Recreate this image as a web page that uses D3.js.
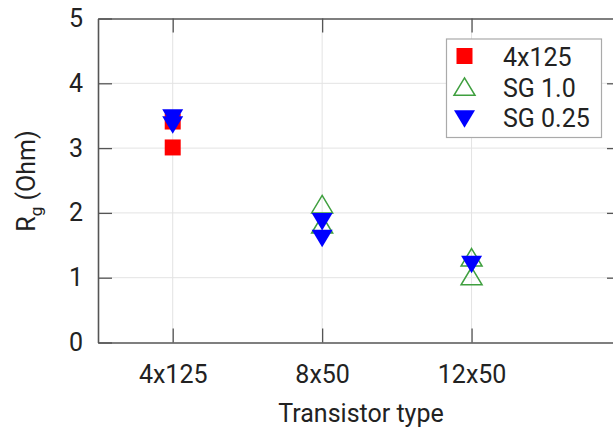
<!DOCTYPE html>
<html><head><meta charset="utf-8">
<script src="https://cdn.jsdelivr.net/npm/d3@7"></script>
<style>
html,body{margin:0;padding:0;background:#fff;}
svg{display:block;font-family:Roboto,"Noto Sans",sans-serif;}
</style></head>
<body><svg id="chart" width="613" height="435"></svg>
<script>
// ---- data ----
const categories = ["4x125", "8x50", "12x50"];
const yTicks = [0, 1, 2, 3, 4, 5];
const seriesNames = ["4x125", "SG 1.0", "SG 0.25"];
// each point: [category, value]
const series4x125 = [["4x125", 3.01], ["4x125", 3.41]];
const seriesSG10 = [["8x50", 2.09], ["8x50", 1.78], ["12x50", 1.27], ["12x50", 0.98]];
const seriesSG025 = [["4x125", 3.51], ["4x125", 3.40], ["8x50", 1.91], ["8x50", 1.65], ["12x50", 1.25]];

// ---- layout ----
const W = 613, H = 435;
const x0 = 98, x1 = 621, yTop = 18.5, yBot = 342.5;
const svg = d3.select("#chart");
const x = d3.scaleLinear().domain([0.5, 4]).range([x0, x1]);
const y = d3.scaleLinear().domain([0, 5]).range([yBot, yTop]);
const catX = c => x(categories.indexOf(c) + 1);

const axisColor = "#555", gridColor = "#e3e3e3", textColor = "#222";
const fs = "25px";

// grid
svg.append("g").selectAll("line").data(yTicks.filter(t => t > 0 && t < 5)).join("line")
  .attr("x1", x0).attr("x2", x1).attr("y1", d => y(d)).attr("y2", d => y(d))
  .attr("stroke", gridColor).attr("stroke-width", 1);
svg.append("g").selectAll("line").data(categories).join("line")
  .attr("x1", d => catX(d)).attr("x2", d => catX(d)).attr("y1", yTop).attr("y2", yBot)
  .attr("stroke", gridColor).attr("stroke-width", 1);

// axes
const tickLen = 14;
const gl = svg.append("g").attr("transform", `translate(${x0},0)`)
  .call(d3.axisLeft(y).tickValues(yTicks).tickFormat(d3.format("d")).tickSize(-tickLen).tickSizeOuter(0).tickPadding(15));
const gr = svg.append("g").attr("transform", `translate(${x1},0)`)
  .call(d3.axisRight(y).tickValues(yTicks.filter(t => t > 0 && t < 5)).tickFormat("").tickSize(-tickLen).tickSizeOuter(0));
const gb = svg.append("g").attr("transform", `translate(0,${yBot})`)
  .call(d3.axisBottom(x).tickValues(categories.map((c, i) => i + 1)).tickFormat(i => categories[i - 1]).tickSize(-tickLen).tickSizeOuter(0).tickPadding(23));
const gt = svg.append("g").attr("transform", `translate(0,${yTop})`)
  .call(d3.axisTop(x).tickValues(categories.map((c, i) => i + 1)).tickFormat("").tickSize(-tickLen).tickSizeOuter(0));
[gl, gr, gb, gt].forEach(g => {
  g.selectAll("path.domain").attr("stroke", axisColor).attr("stroke-width", 1.6);
  g.selectAll(".tick line").attr("stroke", axisColor).attr("stroke-width", 1.3);
  g.selectAll(".tick text").attr("fill", textColor).style("font-size", fs).style("font-family", "Roboto");
});

// axis titles
svg.append("text").attr("x", 361).attr("y", 422).attr("text-anchor", "middle")
  .attr("fill", textColor).style("font-size", fs).text("Transistor type");
const yl = svg.append("text").attr("transform", "translate(35,181) rotate(-90)")
  .attr("text-anchor", "middle").attr("fill", textColor).style("font-size", fs);
yl.append("tspan").text("R");
yl.append("tspan").attr("dy", 7).style("font-size", "17px").text("g");
yl.append("tspan").attr("dy", -7).text(" (Ohm)");

// markers
const triW = 21, triH = 17.5;
const triUp = `M0,${-triH * 2 / 3}L${triW / 2},${triH / 3}L${-triW / 2},${triH / 3}Z`;
const triDown = `M0,${triH * 2 / 3}L${triW / 2},${-triH / 3}L${-triW / 2},${-triH / 3}Z`;
const sq = 16;
const sqPath = `M${-sq / 2},${-sq / 2}h${sq}v${sq}h${-sq}Z`;
const styles = [
  { path: sqPath, fill: "#ff0000", stroke: "none", sw: 0 },
  { path: triUp, fill: "none", stroke: "#3f9f3f", sw: 1.5 },
  { path: triDown, fill: "#0000ff", stroke: "none", sw: 0 }
];
[series4x125, seriesSG10, seriesSG025].forEach((data, i) => {
  const s = styles[i];
  svg.append("g").selectAll("path").data(data).join("path")
    .attr("d", s.path)
    .attr("transform", d => `translate(${catX(d[0])},${y(d[1])})`)
    .attr("fill", s.fill).attr("stroke", s.stroke).attr("stroke-width", s.sw);
});

// legend
const lg = svg.append("g");
lg.append("rect").attr("x", 446.5).attr("y", 39).attr("width", 155).attr("height", 98.5)
  .attr("fill", "#fff").attr("stroke", "#aaa").attr("stroke-width", 1.2);
seriesNames.forEach((n, i) => {
  const cy = 57 + i * 30.5;
  const s = styles[i];
  lg.append("path").attr("d", s.path).attr("transform", `translate(464.5,${cy + (i === 0 ? -1 : (i === 1 ? 2 : -2))})`)
    .attr("fill", s.fill).attr("stroke", s.stroke).attr("stroke-width", s.sw);
  lg.append("text").attr("x", 503).attr("y", cy).attr("dy", "0.36em")
    .attr("fill", textColor).style("font-size", fs).text(n);
});
</script></body></html>
